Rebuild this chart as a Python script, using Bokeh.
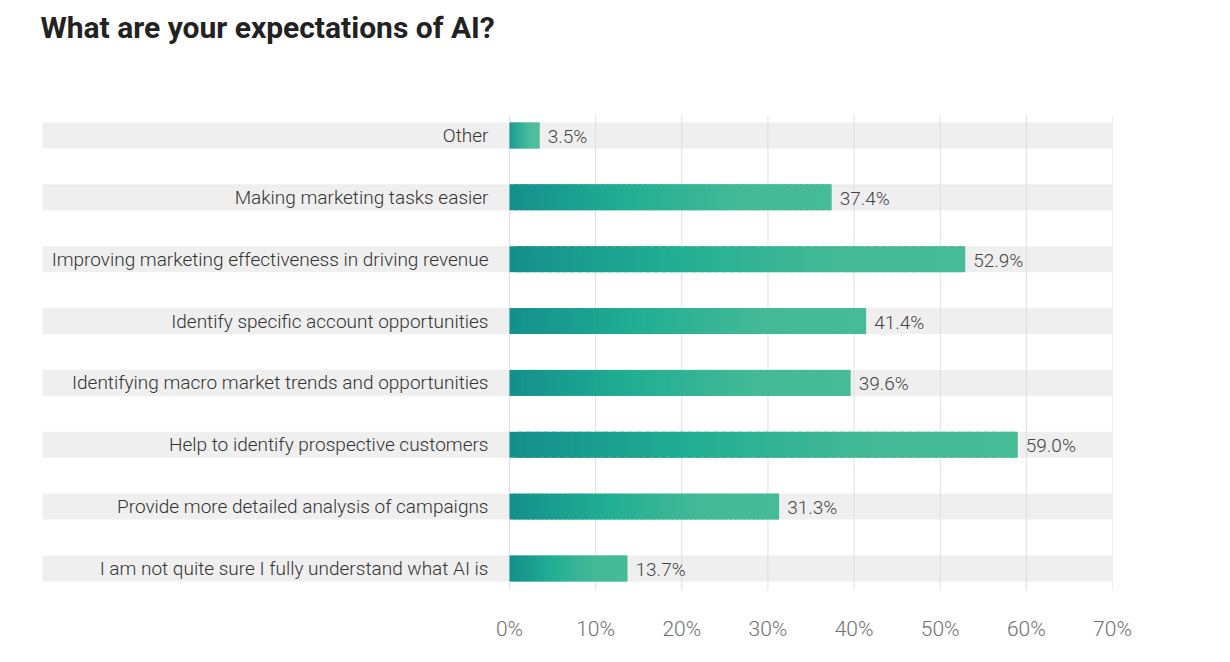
import numpy as np
from bokeh.plotting import figure
from bokeh.models import Range1d, FixedTicker, ColumnDataSource
from bokeh.core.properties import value
from bokeh.embed import file_html
from bokeh.resources import INLINE

title_text = "What are your expectations of AI?"
categories = [
    "Other",
    "Making marketing tasks easier",
    "Improving marketing effectiveness in driving revenue",
    "Identify specific account opportunities",
    "Identifying macro market trends and opportunities",
    "Help to identify prospective customers",
    "Provide more detailed analysis of campaigns",
    "I am not quite sure I fully understand what AI is",
]
values = [3.5, 37.4, 52.9, 41.4, 39.6, 59.0, 31.3, 13.7]
ticks = [0, 10, 20, 30, 40, 50, 60, 70]
tick_labels = ["0%", "10%", "20%", "30%", "40%", "50%", "60%", "70%"]
value_labels = ["%.1f%%" % v for v in values]

n = len(categories)
ypos = [n - 1 - i for i in range(n)]

# layout constants (pixels)
FIG_W, FIG_H = 1214, 646
BOTTOM = 56
FRAME_R = 1112            # right edge of frame (70%)
ZERO_PX = 509             # pixel position of 0%
BAND_L_PX = 42            # grey bands start here
ROW_PX = 61.86            # px per row
X_PER_PX = ticks[-1] / (FRAME_R - ZERO_PX)

XSTART = -ZERO_PX * X_PER_PX
XMAX = ticks[-1]
BAND_L = (BAND_L_PX - ZERO_PX) * X_PER_PX
GRID_BOT = -0.356
GRID_TOP = n - 1 + 0.323
YTOP = GRID_TOP + 115 / ROW_PX
BAR_H = 0.42

LIGHT = "Roboto Light"

p = figure(
    width=FIG_W, height=FIG_H,
    x_range=Range1d(XSTART, XMAX), y_range=Range1d(GRID_BOT, YTOP),
    output_backend="svg", toolbar_location=None,
    min_border_left=0, min_border_right=FIG_W - FRAME_R, min_border_bottom=BOTTOM, min_border_top=0,
    outline_line_color=None, background_fill_color="white", border_fill_color="white",
)

# title
p.text(x=[XSTART + 40 * X_PER_PX], y=[YTOP - 27 / ROW_PX], text=[title_text],
       text_font=value("Roboto"), text_font_style="bold", text_font_size="30px",
       text_color="#222222", text_align="left", text_baseline="alphabetic")

# grey bands behind each row
band_src = ColumnDataSource(dict(y=ypos, left=[BAND_L] * n, right=[XMAX] * n))
p.hbar(y="y", left="left", right="right", height=BAR_H, source=band_src,
       fill_color="#efefef", line_color=None, level="image")

# vertical grid lines at the ticks
p.segment(x0=ticks, x1=ticks, y0=[GRID_BOT] * len(ticks), y1=[GRID_TOP] * len(ticks),
          line_color="#d9e1e4", line_width=1, level="underlay")

# gradient bars built from many thin segments
stops = [(0.0, (0x14, 0x8f, 0x8c)), (0.35, (0x20, 0xae, 0x93)),
         (0.7, (0x43, 0xb9, 0x96)), (1.0, (0x46, 0xbb, 0x97))]

def grad(t):
    for (t0, c0), (t1, c1) in zip(stops[:-1], stops[1:]):
        if t <= t1:
            f = (t - t0) / (t1 - t0)
            return "#%02x%02x%02x" % tuple(int(round(a + (b - a) * f)) for a, b in zip(c0, c1))
    return "#%02x%02x%02x" % stops[-1][1]

NSEG = 60
segL, segR, segY, segC = [], [], [], []
for y, v in zip(ypos, values):
    w = v / NSEG
    for k in range(NSEG):
        segL.append(k * w)
        segR.append(min((k + 1) * w + w * 0.6, v))
        segY.append(y)
        segC.append(grad((k + 0.5) / NSEG))
p.hbar(y=segY, left=segL, right=segR, height=BAR_H, fill_color=segC, line_color=None)

# category labels
lab_src = ColumnDataSource(dict(x=[0] * n, y=ypos, t=categories))
p.text(x="x", y="y", text="t", source=lab_src, x_offset=-21, y_offset=0,
       text_align="right", text_baseline="middle", text_font=value(LIGHT),
       text_font_size="19px", text_color="#333333")

# value labels
val_src = ColumnDataSource(dict(x=values, y=ypos, t=value_labels))
p.text(x="x", y="y", text="t", source=val_src, x_offset=8, y_offset=1,
       text_align="left", text_baseline="middle", text_font=value(LIGHT),
       text_font_size="19px", text_color="#444444")

p.yaxis.visible = False
p.ygrid.visible = False
p.xgrid.visible = False
p.xaxis.ticker = FixedTicker(ticks=ticks)
p.xaxis.major_label_overrides = {t: l for t, l in zip(ticks, tick_labels)}
p.xaxis.axis_line_color = None
p.xaxis.major_tick_line_color = None
p.xaxis.minor_tick_line_color = None
p.xaxis.major_label_text_font = LIGHT
p.xaxis.major_label_text_font_size = "21px"
p.xaxis.major_label_text_color = "#707070"
p.xaxis.major_label_standoff = 20

open("out.html", "w").write(file_html(p, INLINE))
